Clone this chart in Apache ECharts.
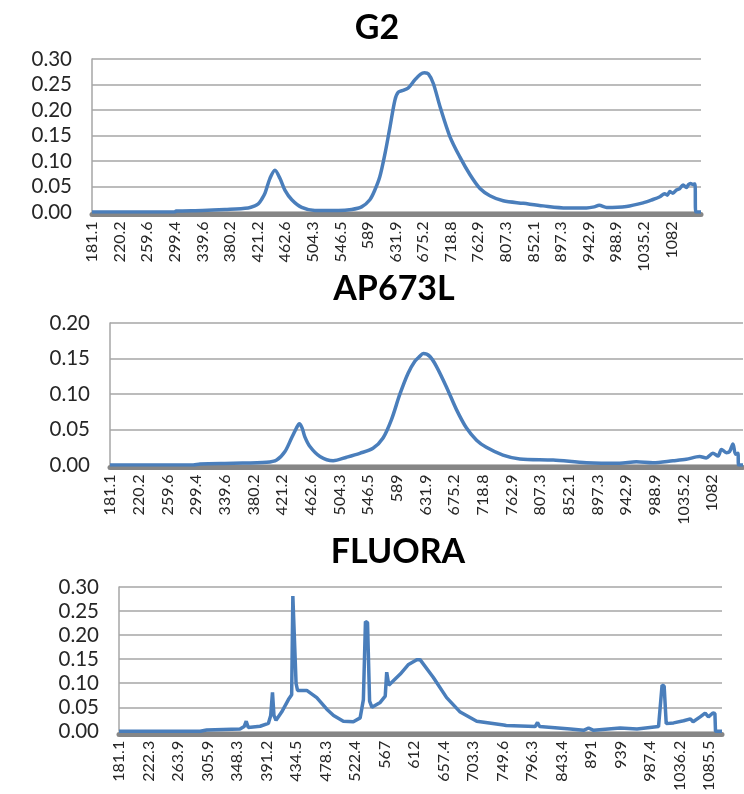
<!DOCTYPE html>
<html>
<head>
<meta charset="utf-8">
<script src="https://cdn.jsdelivr.net/npm/echarts@6/dist/echarts.min.js"></script>
<style>
html,body{margin:0;padding:0;background:#fff;}
#chart{width:744px;height:794px;}
</style>
</head>
<body>
<div id="chart"></div>
<script>
// Tick labels (wavelengths) shown on each category axis
const g2Labels = ['181.1','220.2','259.6','299.4','339.6','380.2','421.2','462.6','504.3','546.5','589','631.9','675.2','718.8','762.9','807.3','852.1','897.3','942.9','988.9','1035.2','1082'];
const apLabels = ['181.1','220.2','259.6','299.4','339.6','380.2','421.2','462.6','504.3','546.5','589','631.9','675.2','718.8','762.9','807.3','852.1','897.3','942.9','988.9','1035.2','1082'];
const fluoraLabels = ['181.1','222.3','263.9','305.9','348.3','391.2','434.5','478.3','522.4','567','612','657.4','703.3','749.6','796.3','843.4','891','939','987.4','1036.2','1085.5'];

// Positions along the category axis, in units of "label steps" (label i sits at i)
const g2X = [0,3.0,3.05,4.0,4.82,5.66,5.9,6.03,6.15,6.27,6.45,6.63,6.81,6.99,7.24,7.6,8.08,8.93,9.41,9.77,10.07,10.25,10.43,10.62,10.8,10.98,11.1,11.3,11.46,11.7,11.9,12.05,12.19,12.37,12.61,12.97,13.33,13.7,14.06,14.42,14.9,15.63,16.35,17.2,17.92,18.2,18.38,18.65,19.37,19.97,20.3,20.58,20.75,20.85,20.94,21.05,21.18,21.3,21.42,21.54,21.62,21.69,21.78,21.85,21.88,22.07];
const g2Y = [0,0,0.002,0.003,0.005,0.008,0.012,0.016,0.025,0.037,0.066,0.082,0.066,0.043,0.024,0.009,0.003,0.003,0.005,0.010,0.024,0.043,0.069,0.115,0.167,0.22,0.235,0.239,0.243,0.259,0.27,0.273,0.271,0.252,0.207,0.148,0.108,0.073,0.046,0.032,0.022,0.017,0.012,0.008,0.008,0.010,0.013,0.009,0.011,0.018,0.024,0.030,0.036,0.033,0.040,0.037,0.043,0.046,0.053,0.048,0.054,0.056,0.054,0.055,0,0];

const apX = [0,2.9,3.14,4.3,5.46,5.81,6.1,6.33,6.5,6.6,6.7,6.79,6.97,7.32,7.78,8.25,8.71,9.17,9.52,9.81,10.1,10.39,10.63,10.8,10.92,11.15,11.38,11.73,12.08,12.43,12.78,13.12,13.7,14.29,15.45,16.61,17.77,18.35,18.93,19.63,20.09,20.56,20.79,21.02,21.2,21.32,21.49,21.6,21.72,21.81,21.89,21.92,22.07];
const apY = [0,0,0.0014,0.0024,0.0038,0.007,0.019,0.038,0.052,0.058,0.052,0.040,0.026,0.012,0.006,0.011,0.0165,0.0235,0.038,0.0635,0.099,0.129,0.146,0.153,0.157,0.153,0.139,0.110,0.078,0.052,0.035,0.025,0.014,0.0085,0.007,0.0033,0.0024,0.0047,0.0033,0.006,0.008,0.0118,0.010,0.0165,0.0127,0.022,0.0174,0.0188,0.0296,0.015,0.0165,0,0];

const fluoraX = [0,2.75,2.97,4.1,4.24,4.31,4.38,4.78,5.06,5.14,5.2,5.25,5.32,5.51,5.74,5.85,5.89,5.94,6.0,6.05,6.36,6.7,7.04,7.27,7.6,7.94,8.17,8.28,8.35,8.42,8.49,8.57,8.85,9.02,9.07,9.14,9.53,9.81,10.09,10.2,10.65,11.1,11.56,12.12,13.03,13.07,13.12,14.1,14.18,14.25,15.29,15.74,15.91,16.08,16.98,17.55,18.28,18.4,18.47,18.54,18.79,19.13,19.36,19.45,19.69,19.86,19.97,20.12,20.19,20.21,20.43];
const fluoraY = [0,0,0.0026,0.005,0.01,0.021,0.008,0.0105,0.0165,0.033,0.081,0.033,0.023,0.040,0.066,0.076,0.281,0.279,0.099,0.085,0.085,0.070,0.046,0.033,0.021,0.020,0.028,0.066,0.228,0.226,0.063,0.050,0.060,0.073,0.123,0.096,0.119,0.139,0.149,0.149,0.112,0.070,0.040,0.021,0.013,0.016,0.012,0.010,0.0185,0.010,0.005,0.002,0.007,0.002,0.007,0.005,0.010,0.096,0.094,0.016,0.0175,0.022,0.026,0.020,0.030,0.038,0.030,0.038,0.037,0,0];

const FONT = 'Lato';
const TXT = '#262626';
const BLUE = '#4a7ebb';

function zip(xs, ys){ return xs.map((x,i)=>[x, ys[i]]); }

function xAxisCfg(gi, labels, max){
  return {
    type:'value', gridIndex:gi, min:0, max:max, interval:1, offset:2.5,
    axisLine:{show:true, onZero:false, lineStyle:{color:'#868686', width:5}},
    axisTick:{show:false}, splitLine:{show:false},
    axisLabel:{rotate:90, margin:7, fontSize:16, color:TXT, fontFamily:FONT,
      hideOverlap:false, showMinLabel:true, showMaxLabel:true,
      formatter:function(v){ const i=Math.round(v); return (Math.abs(v-i)<1e-6 && labels[i]!==undefined) ? labels[i] : ''; }}
  };
}
function yAxisCfg(gi, max){
  return {
    type:'value', gridIndex:gi, min:0, max:max, interval:0.05,
    axisLine:{show:true, lineStyle:{color:'#a6a6a6', width:1.5}},
    axisTick:{show:false},
    splitLine:{show:true, lineStyle:{color:'#a6a6a6', width:1.5}},
    axisLabel:{fontSize:20.5, margin:20, color:TXT, fontFamily:FONT, formatter:function(v){return v.toFixed(2);}}
  };
}
function lineSeries(gi, data, smooth){
  return {type:'line', xAxisIndex:gi, yAxisIndex:gi, data:data, showSymbol:false, symbol:'none',
    smooth:smooth, lineStyle:{color:BLUE, width:3.5}, itemStyle:{color:BLUE}, animation:false, z:5};
}

const chart = echarts.init(document.getElementById('chart'), null, {renderer:'canvas'});
const titleStyle = {fontFamily:FONT, fontWeight:'bold', fontSize:34, color:'#000'};
chart.setOption({
  animation:false,
  backgroundColor:'#ffffff',
  title:[
    {text:'G2', left:372, top:6, textAlign:'center', textStyle:titleStyle},
    {text:'AP673L', left:389, top:267, textAlign:'center', textStyle:titleStyle},
    {text:'FLUORA', left:393, top:530, textAlign:'center', textStyle:titleStyle}
  ],
  grid:[
    {left:92, top:59, width:609, height:153},
    {left:110, top:323, width:633, height:142},
    {left:119, top:587, width:603, height:151}
  ],
  xAxis:[ xAxisCfg(0, g2Labels, 22.07), xAxisCfg(1, apLabels, 22.07), xAxisCfg(2, fluoraLabels, 20.43) ],
  yAxis:[ yAxisCfg(0, 0.3), yAxisCfg(1, 0.2), yAxisCfg(2, 0.3) ],
  series:[
    lineSeries(0, zip(g2X, g2Y), 0.3),
    lineSeries(1, zip(apX, apY), 0.3),
    lineSeries(2, zip(fluoraX, fluoraY), false)
  ]
});
</script>
</body>
</html>
